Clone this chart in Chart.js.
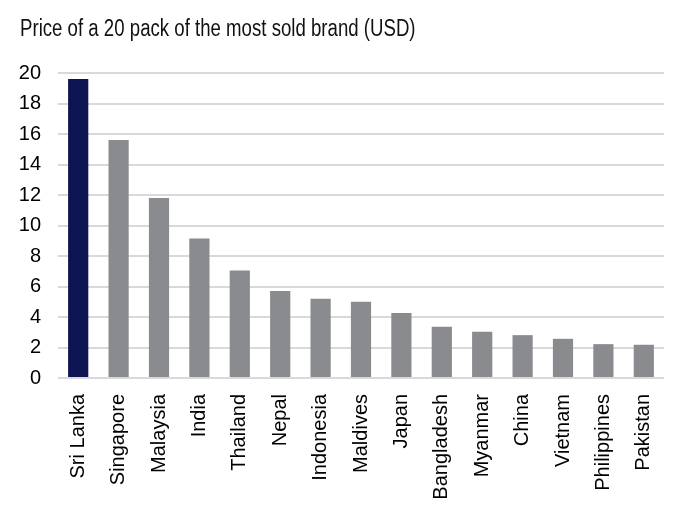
<!DOCTYPE html>
<html>
<head>
<meta charset="utf-8">
<script src="https://cdn.jsdelivr.net/npm/chart.js@4"></script>
<style>
  body { margin: 0; background: #fff; }
</style>
</head>
<body>
<canvas id="chart" width="678" height="514"></canvas>
<script>
var countries = ['Sri Lanka', 'Singapore', 'Malaysia', 'India', 'Thailand', 'Nepal', 'Indonesia',
    'Maldives', 'Japan', 'Bangladesh', 'Myanmar', 'China', 'Vietnam', 'Philippines', 'Pakistan'];
var prices = [19.6, 15.6, 11.8, 9.15, 7.05, 5.7, 5.2, 5.0, 4.27, 3.36, 3.03, 2.81, 2.57, 2.22, 2.18];
var yTicks = [0, 2, 4, 6, 8, 10, 12, 14, 16, 18, 20];
var titleText = 'Price of a 20 pack of the most sold brand (USD)';

var navy = '#0c1452';
var grey = '#8a8b8f';

// narrow title, squeezed since no condensed font is installed
var narrowTitle = {
    id: 'narrowTitle',
    afterDraw: function(chart) {
        var c = chart.ctx;
        c.save();
        c.translate(20, 36);
        c.scale(0.81, 1);
        c.font = "23px 'Liberation Sans', Arial, sans-serif";
        c.fillStyle = '#111';
        c.textAlign = 'left';
        c.textBaseline = 'alphabetic';
        c.fillText(titleText, 0, 0);
        c.restore();
    }
};

var ctx = document.getElementById('chart').getContext('2d');
new Chart(ctx, {
    type: 'bar',
    data: {
        labels: countries,
        datasets: [{
            data: prices,
            backgroundColor: countries.map(function(c, i) { return i === 0 ? navy : grey; }),
            categoryPercentage: 1,
            barPercentage: 0.5
        }]
    },
    plugins: [narrowTitle],
    options: {
        responsive: false,
        animation: false,
        layout: { padding: { left: 0, right: 14, top: 73, bottom: 0 } },
        plugins: {
            legend: { display: false },
            tooltip: { enabled: false },
            title: { display: false }
        },
        scales: {
            x: {
                grid: { display: false },
                border: { display: false },
                ticks: {
                    color: '#000',
                    minRotation: 90,
                    maxRotation: 90,
                    padding: 8,
                    font: { family: "'Liberation Sans', Arial, sans-serif", size: 20 }
                },
                afterFit: function(scale) { scale.height = 136; }
            },
            y: {
                min: 0,
                max: 20,
                afterBuildTicks: function(scale) {
                    scale.ticks = yTicks.map(function(v) { return { value: v }; });
                },
                grid: { color: '#d9d9d9', lineWidth: 2, drawTicks: false },
                border: { display: false },
                ticks: {
                    color: '#000',
                    padding: 17,
                    font: { family: "'Liberation Sans', Arial, sans-serif", size: 20 }
                },
                afterFit: function(scale) { scale.width = 58; }
            }
        }
    }
});
</script>
</body>
</html>
